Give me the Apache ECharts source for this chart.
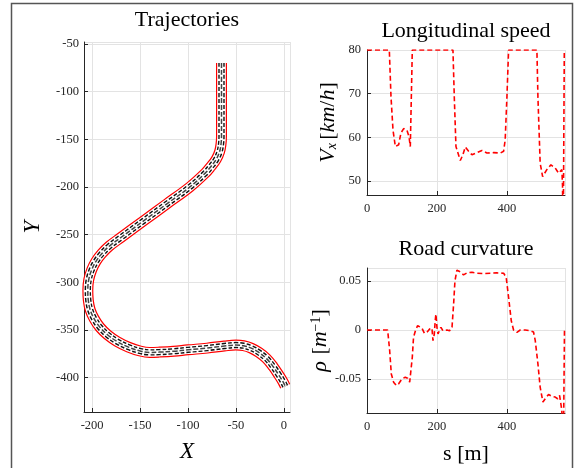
<!DOCTYPE html>
<html>
<head>
<meta charset="utf-8">
<title>Trajectories</title>
<script src="https://cdn.jsdelivr.net/npm/echarts@6/dist/echarts.min.js"></script>
<style>
  html, body { margin: 0; padding: 0; background: #fff; }
  #chart { width: 575px; height: 468px; }
</style>
</head>
<body>
<div id="chart"></div>
<script>
// road centre line
const roadX = [-65, -65, -65, -65, -65.5, -67, -70.5, -76, -82, -98, -122, -146, -170, -182, -190, -196, -200.5, -203.5, -204.5, -204, -202, -198, -192, -184, -174, -162, -150, -140, -130, -115, -100, -80, -62, -50, -42, -34, -26, -18, -11, -5, -1, 1.5]
const roadY = [-70, -100, -130, -147, -155, -163, -171, -178.5, -185.5, -200, -217.7, -235.3, -253, -262, -270, -278, -287, -297, -308, -319, -329, -338, -347, -355, -362, -368, -372, -373.5, -373.2, -372.3, -370.8, -369, -366.8, -365.8, -366.5, -369, -373.5, -380, -388.5, -397.5, -404, -409]

// longitudinal speed [km/h] vs s [m]
const speedS = [0, 63.8, 68.6, 74.3, 81, 90.5, 97, 104.8, 114, 120, 123.8, 129.5, 245.7, 249.5, 254.3, 266.7, 274, 281, 290.5, 300, 314, 328.6, 342.9, 362, 381, 390.5, 395, 400, 404.8, 485.7, 488.6, 495, 502, 514, 525.7, 538, 547.6, 552, 557, 559, 560.5, 564, 566]
const speedV = [80, 80, 69.3, 61.7, 57.9, 58.3, 61, 62, 61.7, 60.2, 57.9, 80, 80, 69.3, 57.9, 54.7, 56, 57.8, 56.8, 56, 56.5, 57, 56.4, 56.5, 56.4, 56.8, 59.4, 69.3, 80, 80, 69.3, 54.1, 51, 52.6, 53.7, 53, 51.8, 51.4, 52.6, 48.8, 30, 80, 80]

// road curvature [1/m] vs s [m]
const curvS = [0, 59, 64.8, 69.5, 76, 83.8, 90.5, 100, 109.5, 116, 122, 126.7, 129.5, 133, 139, 144.8, 150.5, 157, 164, 171.4, 179, 185.7, 188.6, 192.4, 195, 197, 200, 203, 207.6, 211.4, 217, 228.6, 236, 243, 247.6, 251.4, 257, 264.8, 276, 285.7, 300, 314, 333, 352, 371, 390.5, 398, 404.8, 412.4, 419, 428.6, 438, 452.4, 466.7, 476, 481, 488.6, 495, 502.9, 509.5, 519, 528.6, 538, 545, 550.5, 554, 557, 559.5, 564.5, 566]
const curvRho = [0, 0, -0.021, -0.045, -0.0534, -0.0568, -0.0551, -0.05, -0.0483, -0.0493, -0.0534, -0.0551, -0.0279, -0.0075, 0, 0.0044, 0.0054, 0.002, -0.0034, -0.0024, 0.001, 0.002, -0.0109, -0.0041, 0.0095, 0.0163, 0.0027, -0.004, 0, 0.0027, -0.0007, 0, -0.0007, 0.0027, 0.0265, 0.0503, 0.0612, 0.0599, 0.0565, 0.0585, 0.0592, 0.0582, 0.0578, 0.0582, 0.0585, 0.0582, 0.0537, 0.0333, 0.0095, 0, -0.0024, 0, 0, -0.0007, -0.002, -0.0109, -0.0347, -0.0585, -0.0738, -0.0704, -0.066, -0.068, -0.0687, -0.0704, -0.067, -0.0687, -0.0823, -0.2, 0, 0]

const zip = (a, b) => a.map((v, i) => [v, b[i]])
const road = zip(roadX, roadY)

const serif = 'Liberation Serif'
const ink = '#262626'

function axisBase(extra) {
  return Object.assign({
    type: 'value',
    scale: true,
    axisLine: { show: true, onZero: false, lineStyle: { color: ink, width: 1 } },
    axisTick: { show: true, inside: true, length: 4, lineStyle: { color: ink } },
    splitLine: { show: true, lineStyle: { color: '#e3e3e3' } },
    nameLocation: 'middle',
    nameTextStyle: { color: '#000', fontFamily: serif, fontSize: 22 }
  }, extra)
}

function tickLabels(margin, hideMin, hideMax) {
  return { color: ink, fontFamily: serif, fontSize: 12.5, margin: margin, showMinLabel: !hideMin, showMaxLabel: !hideMax }
}

// road drawn as stacked strokes along the centre line
function roadLayer(color, width, dash) {
  return {
    type: 'line',
    xAxisIndex: 0,
    yAxisIndex: 0,
    data: road,
    smooth: 0.4,
    symbol: 'none',
    silent: true,
    lineStyle: { color: color, width: width, type: dash || 'solid', cap: 'butt', join: 'round' }
  }
}

const titleStyle = { fontFamily: serif, fontSize: 22, fill: '#000', align: 'center', verticalAlign: 'middle' }

const chart = echarts.init(document.getElementById('chart'))

chart.setOption({
  animation: false,
  backgroundColor: '#fff',
  graphic: [
    { type: 'rect', shape: { x: 11.5, y: 3.5, width: 561, height: 470 }, style: { fill: 'none', stroke: '#555', lineWidth: 1.5 }, silent: true },
    { type: 'text', x: 187, y: 20, style: Object.assign({ text: 'Trajectories' }, titleStyle) },
    { type: 'text', x: 466, y: 31, style: Object.assign({ text: 'Longitudinal speed' }, titleStyle) },
    { type: 'text', x: 466, y: 249, style: Object.assign({ text: 'Road curvature' }, titleStyle) }
  ],
  grid: [
    { left: 84, top: 42, width: 206, height: 371 },
    { left: 367, top: 50, width: 198, height: 145 },
    { left: 367, top: 268, width: 198, height: 145 }
  ],
  xAxis: [
    axisBase({
      gridIndex: 0, position: 'bottom', min: -208.5, max: 6.5, minInterval: 50, maxInterval: 50, splitNumber: 5,
      axisLabel: tickLabels(7, true, true),
      name: 'X', nameGap: 28,
      nameTextStyle: { color: '#000', fontFamily: serif, fontSize: 23, fontStyle: 'italic' }
    }),
    axisBase({
      gridIndex: 1, position: 'bottom', min: 0, max: 566, minInterval: 200, maxInterval: 200, splitNumber: 3,
      axisLabel: tickLabels(7, false, true)
    }),
    axisBase({
      gridIndex: 2, position: 'bottom', min: 0, max: 566, minInterval: 200, maxInterval: 200, splitNumber: 3,
      axisLabel: tickLabels(7, false, true),
      name: 's [m]', nameGap: 30
    })
  ],
  yAxis: [
    axisBase({
      gridIndex: 0, position: 'left', min: -436, max: -48, minInterval: 50, maxInterval: 50, splitNumber: 8,
      axisLabel: tickLabels(5, true, true),
      name: 'Y', nameGap: 40,
      nameTextStyle: { color: '#000', fontFamily: serif, fontSize: 23, fontStyle: 'italic' }
    }),
    axisBase({
      gridIndex: 1, position: 'left', min: 46.8, max: 80, minInterval: 10, maxInterval: 10, splitNumber: 4,
      axisLabel: tickLabels(6, true, false),
      name: '{it|V}{sub|x} {rm|[}{it|km}{rm|/}{it|h}{rm|]}', nameGap: 28,
      nameTextStyle: {
        rich: {
          it: { fontFamily: serif, fontSize: 22, fontStyle: 'italic', color: '#000' },
          rm: { fontFamily: serif, fontSize: 22, color: '#000' },
          sub: { fontFamily: serif, fontSize: 14, fontStyle: 'italic', color: '#000', verticalAlign: 'bottom', padding: [8, 0, 0, 0] }
        }
      }
    }),
    axisBase({
      gridIndex: 2, position: 'left', min: -0.085, max: 0.0635, minInterval: 0.05, maxInterval: 0.05, splitNumber: 3,
      axisLabel: tickLabels(6, true, true),
      name: '{it|ρ}  {rm|[}{it|m}{sup|−1}{rm|]}', nameGap: 30,
      nameTextStyle: {
        rich: {
          it: { fontFamily: serif, fontSize: 22, fontStyle: 'italic', color: '#000' },
          rm: { fontFamily: serif, fontSize: 22, color: '#000' },
          sup: { fontFamily: serif, fontSize: 14, color: '#000', verticalAlign: 'top', padding: [0, 0, 8, 0] }
        }
      }
    })
  ],
  series: [
    roadLayer('#ff0000', 11),
    roadLayer('#ffffff', 8.6),
    roadLayer('#111111', 6.4, [4, 2]),
    roadLayer('#ffffff', 3.6),
    roadLayer('#444444', 1.5, [5, 2]),
    {
      type: 'line',
      xAxisIndex: 1,
      yAxisIndex: 1,
      data: zip(speedS, speedV),
      symbol: 'none',
      clip: true,
      lineStyle: { color: '#ff0000', width: 1.6, type: [5, 3] }
    },
    {
      type: 'line',
      xAxisIndex: 2,
      yAxisIndex: 2,
      data: zip(curvS, curvRho),
      symbol: 'none',
      clip: true,
      lineStyle: { color: '#ff0000', width: 1.6, type: [5, 3] }
    }
  ]
})
</script>
</body>
</html>
